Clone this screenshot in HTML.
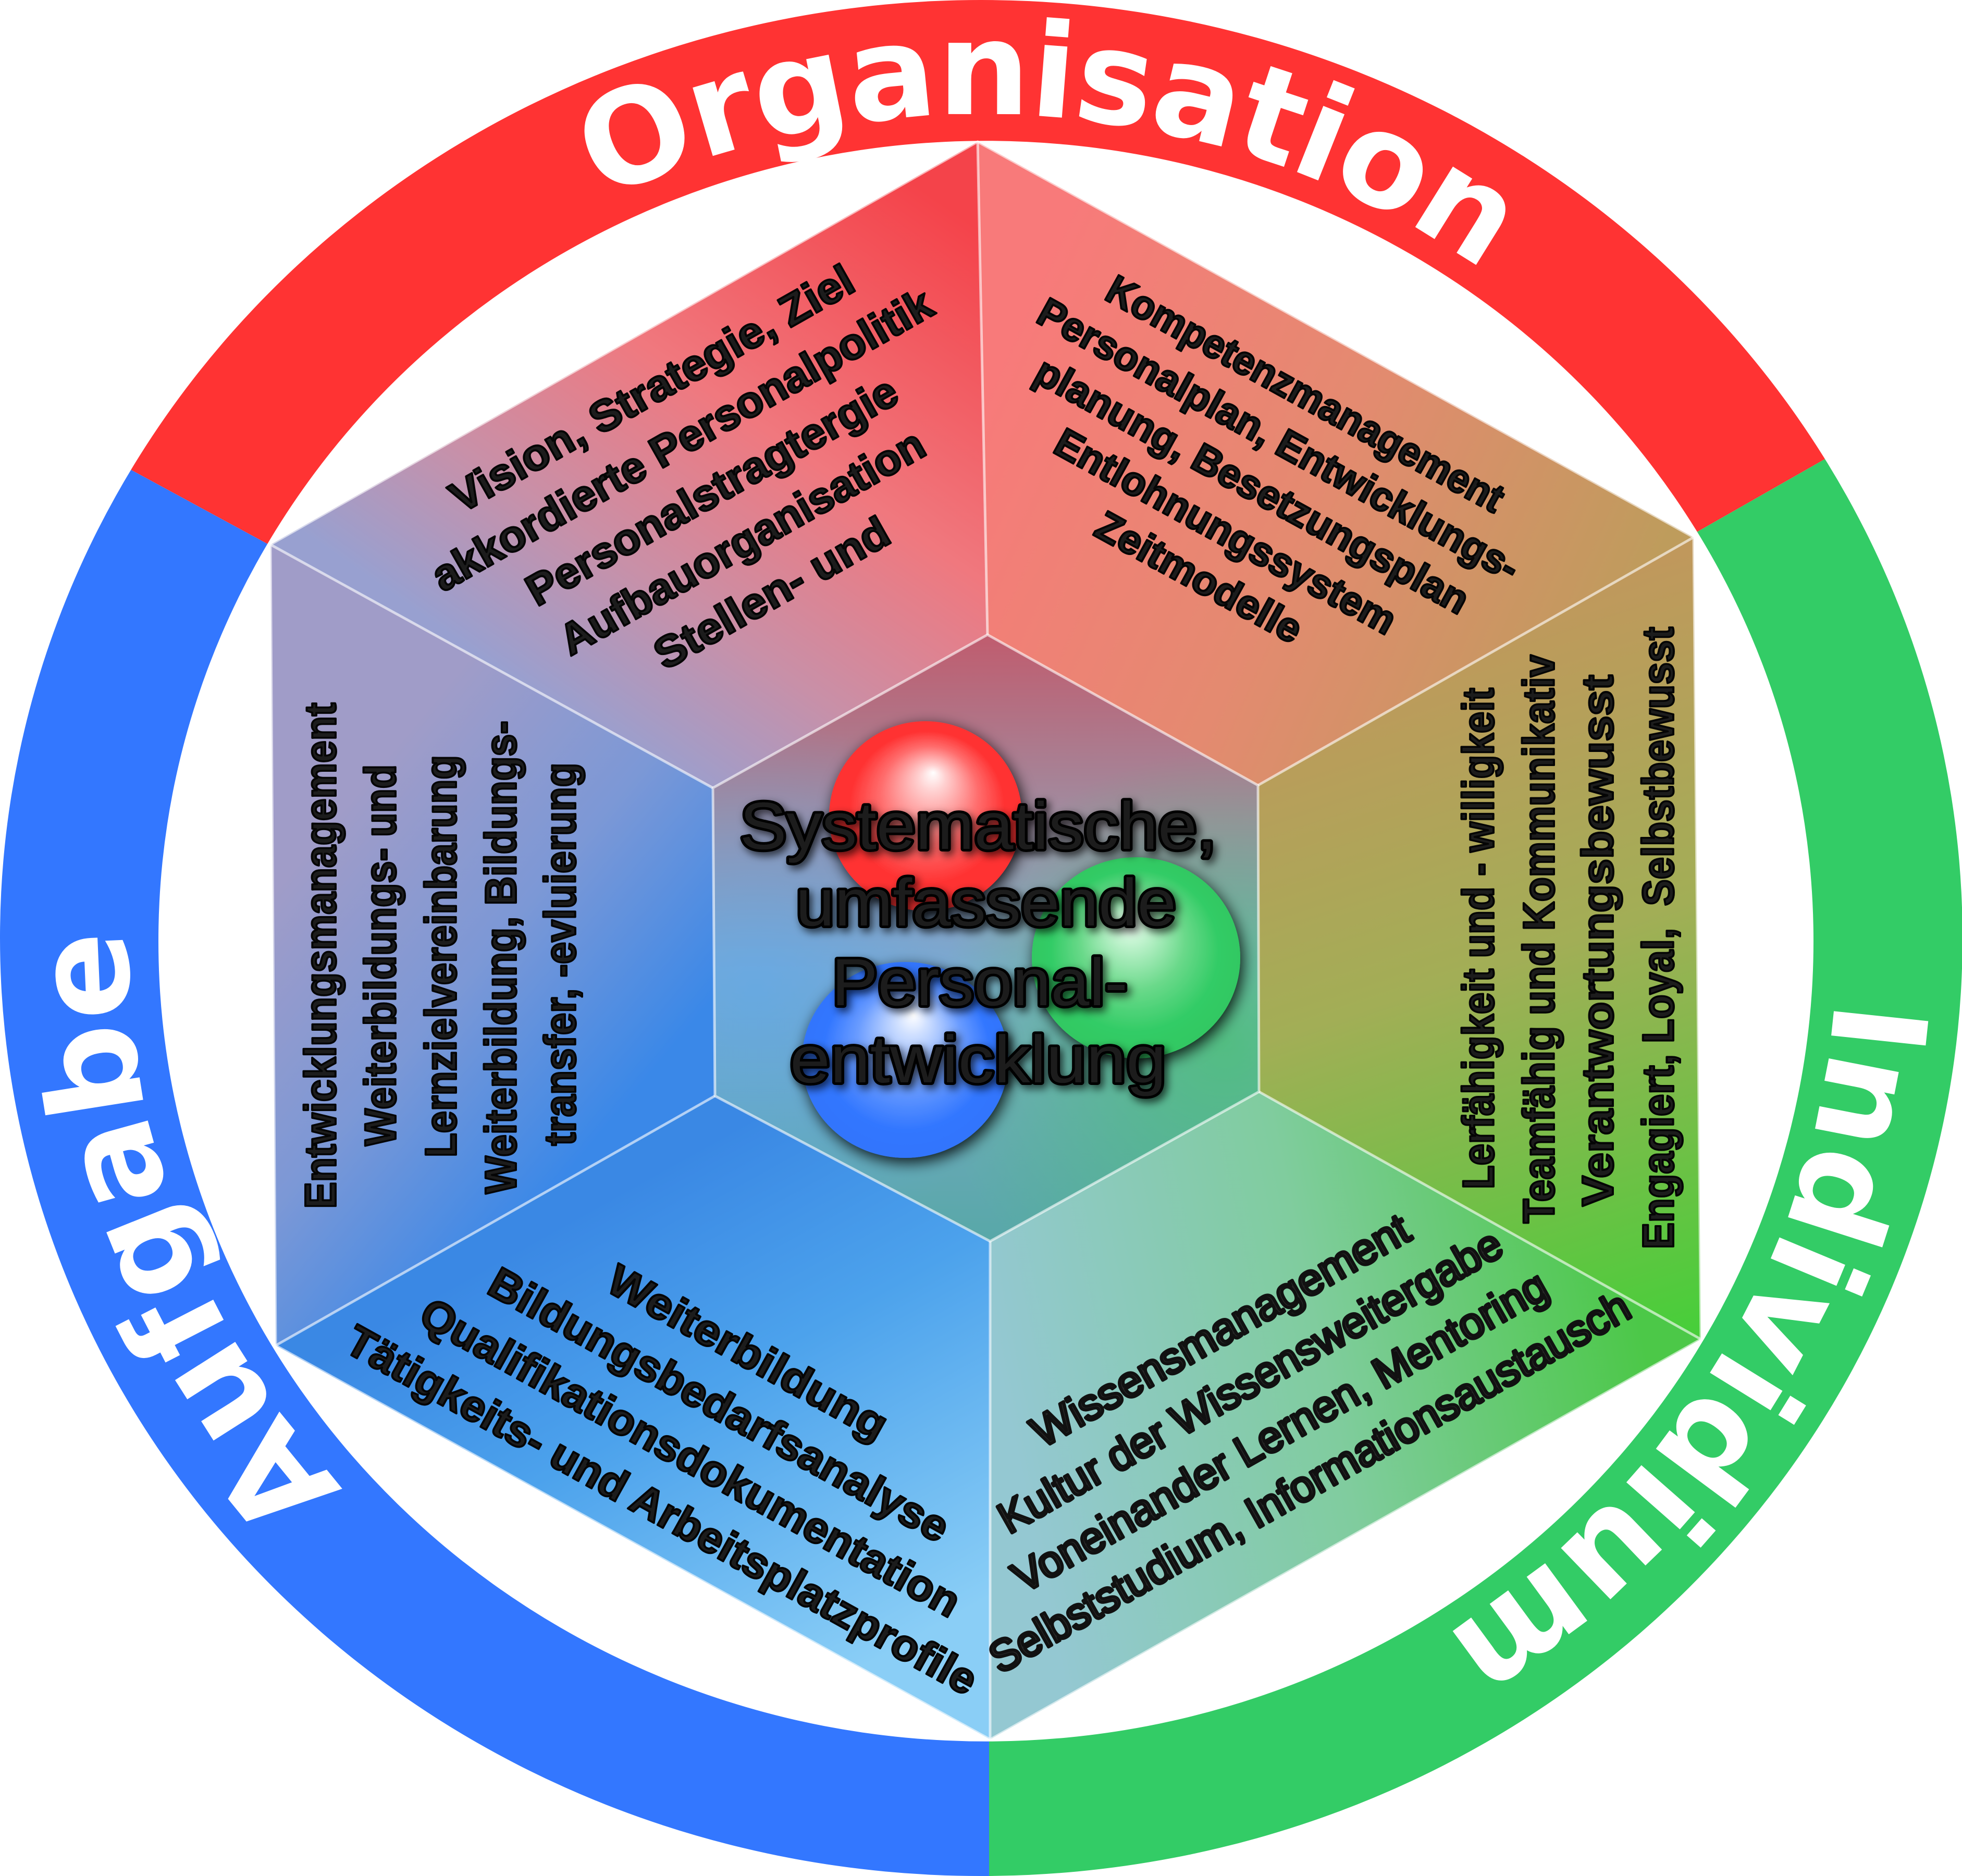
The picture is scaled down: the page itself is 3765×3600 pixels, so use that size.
<!DOCTYPE html>
<html>
<head>
<meta charset="utf-8">
<style>
html,body{margin:0;padding:0;background:#ffffff;}
svg{display:block;}
</style>
</head>
<body>
<svg width="3765" height="3600" viewBox="0 0 3765 3600" xmlns="http://www.w3.org/2000/svg" xmlns:xlink="http://www.w3.org/1999/xlink">
<defs>
  <clipPath id="cRed"><polygon points="1898,1795 -100,711 -100,-100 3865,-100 3865,674"/></clipPath>
  <clipPath id="cBlue"><polygon points="1898,1795 -100,711 -100,3700 1898,3700"/></clipPath>
  <clipPath id="cGreen"><polygon points="1898,1795 3865,674 3865,3700 1898,3700"/></clipPath>

  <path id="ring" fill-rule="evenodd" d="M 0 1800 A 1883 1800 0 1 0 3766 1800 A 1883 1800 0 1 0 0 1800 Z M 304 1806 A 1588 1535 0 1 0 3480 1806 A 1588 1535 0 1 0 304 1806 Z"/>

  <path id="pO" d="M 464.7 1011 A 1640 1584 0 0 1 3426.1 1261.3" fill="none"/>
  <path id="pI" d="M 3426.1 1261.3 A 1640 1584 0 0 1 1600.3 3363" fill="none"/>
  <path id="pA" d="M 1600.2 3362.9 A 1640 1584 0 0 1 628.7 784.8" fill="none"/>

  <linearGradient id="gTL" gradientUnits="userSpaceOnUse" x1="1750" y1="350" x2="1050" y2="1350">
    <stop offset="0" stop-color="#f4434a"/>
    <stop offset="0.45" stop-color="#f0787e"/>
    <stop offset="0.75" stop-color="#c890a8"/>
    <stop offset="1" stop-color="#98a0d0"/>
  </linearGradient>
  <linearGradient id="gTR" gradientUnits="userSpaceOnUse" x1="1950" y1="600" x2="3150" y2="1150">
    <stop offset="0" stop-color="#f87a7a"/>
    <stop offset="0.5" stop-color="#e48a70"/>
    <stop offset="1" stop-color="#be9c5c"/>
  </linearGradient>
  <linearGradient id="gR" gradientUnits="userSpaceOnUse" x1="2800" y1="1200" x2="3250" y2="2550">
    <stop offset="0" stop-color="#c0985c"/>
    <stop offset="0.45" stop-color="#a2ae56"/>
    <stop offset="1" stop-color="#48ce3a"/>
  </linearGradient>
  <linearGradient id="gBR" gradientUnits="userSpaceOnUse" x1="1950" y1="2800" x2="3150" y2="2550">
    <stop offset="0" stop-color="#94c8d2"/>
    <stop offset="0.5" stop-color="#80cc9e"/>
    <stop offset="1" stop-color="#4cc848"/>
  </linearGradient>
  <linearGradient id="gBL" gradientUnits="userSpaceOnUse" x1="1250" y1="2250" x2="1750" y2="3150">
    <stop offset="0" stop-color="#3a88e4"/>
    <stop offset="0.4" stop-color="#4ca2ec"/>
    <stop offset="1" stop-color="#8acef6"/>
  </linearGradient>
  <linearGradient id="gL" gradientUnits="userSpaceOnUse" x1="700" y1="1500" x2="1300" y2="2000">
    <stop offset="0" stop-color="#a09cc8"/>
    <stop offset="0.5" stop-color="#7c98d6"/>
    <stop offset="1" stop-color="#3a88e8"/>
  </linearGradient>
  <linearGradient id="gIn" gradientUnits="userSpaceOnUse" x1="0" y1="1218" x2="0" y2="2382">
    <stop offset="0" stop-color="#c05c6e"/>
    <stop offset="0.3" stop-color="#a08ca0"/>
    <stop offset="0.55" stop-color="#80aacc"/>
    <stop offset="1" stop-color="#58a8a8"/>
  </linearGradient>
  <radialGradient id="gInB" gradientUnits="userSpaceOnUse" cx="1450" cy="1900" r="520">
    <stop offset="0" stop-color="#5aa8f0" stop-opacity="0.6"/>
    <stop offset="1" stop-color="#5aa8f0" stop-opacity="0"/>
  </radialGradient>
  <radialGradient id="gInG" gradientUnits="userSpaceOnUse" cx="2350" cy="2000" r="560">
    <stop offset="0" stop-color="#40c860" stop-opacity="0.65"/>
    <stop offset="1" stop-color="#40c860" stop-opacity="0"/>
  </radialGradient>

  <radialGradient id="sR" cx="0.5" cy="0.5" r="0.5" fx="0.54" fy="0.27">
    <stop offset="0" stop-color="#ffffff"/>
    <stop offset="0.14" stop-color="#ffd0d0"/>
    <stop offset="0.5" stop-color="#ff6e6e"/>
    <stop offset="0.8" stop-color="#ff3333"/>
    <stop offset="1" stop-color="#ff3030"/>
  </radialGradient>
  <radialGradient id="sG" cx="0.5" cy="0.5" r="0.5" fx="0.47" fy="0.32">
    <stop offset="0" stop-color="#ffffff"/>
    <stop offset="0.14" stop-color="#c8f5d4"/>
    <stop offset="0.5" stop-color="#6ad98a"/>
    <stop offset="0.8" stop-color="#33cc66"/>
    <stop offset="1" stop-color="#30c862"/>
  </radialGradient>
  <radialGradient id="sB" cx="0.5" cy="0.5" r="0.5" fx="0.54" fy="0.27">
    <stop offset="0" stop-color="#ffffff"/>
    <stop offset="0.14" stop-color="#d0e0ff"/>
    <stop offset="0.5" stop-color="#6a9cff"/>
    <stop offset="0.8" stop-color="#3377ff"/>
    <stop offset="1" stop-color="#3074fc"/>
  </radialGradient>

  <filter id="fSph" x="-30%" y="-30%" width="160%" height="160%">
    <feGaussianBlur in="SourceAlpha" stdDeviation="14"/>
    <feOffset dx="5" dy="9" result="b"/>
    <feFlood flood-color="#000" flood-opacity="0.85"/>
    <feComposite in2="b" operator="in"/>
    <feMerge><feMergeNode/><feMergeNode in="SourceGraphic"/></feMerge>
  </filter>
  <filter id="fTxt" x="-10%" y="-30%" width="120%" height="160%">
    <feGaussianBlur in="SourceAlpha" stdDeviation="8"/>
    <feOffset dx="6" dy="7" result="b"/>
    <feFlood flood-color="#000" flood-opacity="0.7"/>
    <feComposite in2="b" operator="in"/>
    <feMerge><feMergeNode/><feMergeNode in="SourceGraphic"/></feMerge>
  </filter>
</defs>

<rect x="0" y="0" width="3765" height="3600" fill="#ffffff"/>

<!-- Ring -->
<use href="#ring" xlink:href="#ring" fill="#ff3333" clip-path="url(#cRed)"/>
<use href="#ring" xlink:href="#ring" fill="#3377ff" clip-path="url(#cBlue)"/>
<use href="#ring" xlink:href="#ring" fill="#33cc66" clip-path="url(#cGreen)"/>

<!-- Ring labels -->
<g font-family="'DejaVu Sans', 'Liberation Sans', sans-serif" font-weight="bold" font-size="250" fill="#ffffff">
  <text><textPath href="#pO" xlink:href="#pO" startOffset="1835" text-anchor="middle" textLength="1780" lengthAdjust="spacing">Organisation</textPath></text>
  <text><textPath href="#pI" xlink:href="#pI" startOffset="1412" text-anchor="middle">Individium</textPath></text>
  <text><textPath href="#pA" xlink:href="#pA" startOffset="1676" text-anchor="middle">Aufgabe</textPath></text>
</g>

<!-- Hexagon segments -->
<polygon points="519,1045 1876,272 1895,1218 1368,1512" fill="url(#gTL)"/>
<polygon points="1876,272 3250,1031 2414,1507 1895,1218" fill="url(#gTR)"/>
<polygon points="3250,1031 3264,2570 2416,2095 2414,1507" fill="url(#gR)"/>
<polygon points="3264,2570 1900,3338 1900,2382 2416,2095" fill="url(#gBR)"/>
<polygon points="1900,3338 529,2582 1372,2103 1900,2382" fill="url(#gBL)"/>
<polygon points="529,2582 519,1045 1368,1512 1372,2103" fill="url(#gL)"/>

<!-- Inner hexagon -->
<polygon points="1895,1218 2414,1507 2416,2095 1900,2382 1372,2103 1368,1512" fill="url(#gIn)"/>
<polygon points="1895,1218 2414,1507 2416,2095 1900,2382 1372,2103 1368,1512" fill="url(#gInB)"/>
<polygon points="1895,1218 2414,1507 2416,2095 1900,2382 1372,2103 1368,1512" fill="url(#gInG)"/>

<!-- Edges and spokes -->
<g fill="none" stroke="#ffffff" stroke-opacity="0.6" stroke-width="5" stroke-linejoin="round">
  <polygon points="1876,272 3250,1031 3264,2570 1900,3338 529,2582 519,1045"/>
  <polygon points="1895,1218 2414,1507 2416,2095 1900,2382 1372,2103 1368,1512"/>
  <line x1="1876" y1="272" x2="1895" y2="1218"/>
  <line x1="3250" y1="1031" x2="2414" y2="1507"/>
  <line x1="3264" y1="2570" x2="2416" y2="2095"/>
  <line x1="1900" y1="3338" x2="1900" y2="2382"/>
  <line x1="529" y1="2582" x2="1372" y2="2103"/>
  <line x1="519" y1="1045" x2="1368" y2="1512"/>
</g>

<!-- Segment texts (bold) -->
<g font-family="'Liberation Sans', Arial, sans-serif" font-weight="bold" fill="#1c1c1c" stroke="#050505" stroke-width="4" stroke-linejoin="round" text-anchor="middle">
  <!-- top-left -->
  <g font-size="84">
    <text transform="translate(1265 771) rotate(-29.5)" textLength="875" lengthAdjust="spacingAndGlyphs">Vision, Strategie, Ziel</text>
    <text transform="translate(1323 869) rotate(-29.5)" textLength="1089" lengthAdjust="spacingAndGlyphs">akkordierte Personalpolitik</text>
    <text transform="translate(1380 967) rotate(-29.5)" textLength="804" lengthAdjust="spacingAndGlyphs">Personalstragtergie</text>
    <text transform="translate(1438 1065) rotate(-29.5)" textLength="790" lengthAdjust="spacingAndGlyphs">Aufbauorganisation</text>
    <text transform="translate(1495 1163) rotate(-29.5)" textLength="504" lengthAdjust="spacingAndGlyphs">Stellen- und</text>
  </g>
  <!-- top-right -->
  <g font-size="78">
    <text transform="translate(2492 779) rotate(28.8)" textLength="857" lengthAdjust="spacingAndGlyphs">Kompetenzmanagement</text>
    <text transform="translate(2441 867) rotate(28.8)" textLength="1041" lengthAdjust="spacingAndGlyphs">Personalplan, Entwicklungs-</text>
    <text transform="translate(2390 955) rotate(28.8)" textLength="936" lengthAdjust="spacingAndGlyphs">planung, Besetzungsplan</text>
    <text transform="translate(2339 1043) rotate(28.8)" textLength="734" lengthAdjust="spacingAndGlyphs">Entlohnungssystem</text>
    <text transform="translate(2288 1131) rotate(28.8)" textLength="439" lengthAdjust="spacingAndGlyphs">Zeitmodelle</text>
  </g>
  <!-- right (vertical) -->
  <g font-size="84">
    <text transform="translate(2866 1801) rotate(-90)" textLength="962" lengthAdjust="spacingAndGlyphs">Lerfähigkeit und - willigkeit</text>
    <text transform="translate(2982 1802) rotate(-90)" textLength="1091" lengthAdjust="spacingAndGlyphs">Teamfähig und Kommunikativ</text>
    <text transform="translate(3095 1805) rotate(-90)" textLength="1020" lengthAdjust="spacingAndGlyphs">Verantwortungsbewusst</text>
    <text transform="translate(3211 1800) rotate(-90)" textLength="1194" lengthAdjust="spacingAndGlyphs">Engagiert, Loyal,&#160; Selbstbewusst</text>
  </g>
  <!-- bottom-left -->
  <g font-size="84">
    <text transform="translate(1421 2620) rotate(29)" textLength="600" lengthAdjust="spacingAndGlyphs">Weiterbildung</text>
    <text transform="translate(1366 2721) rotate(29)" textLength="995" lengthAdjust="spacingAndGlyphs">Bildungsbedarfsanalyse</text>
    <text transform="translate(1311 2822) rotate(29)" textLength="1170" lengthAdjust="spacingAndGlyphs">Qualifikationsdokumentation</text>
    <text transform="translate(1256 2923) rotate(29)" textLength="1370" lengthAdjust="spacingAndGlyphs">Tätigkeits- und Arbeitsplatzprofile</text>
  </g>
  <!-- left (vertical) -->
  <g font-size="84">
    <text transform="translate(644 1834) rotate(-90)" textLength="971" lengthAdjust="spacingAndGlyphs">Entwicklungsmanagement</text>
    <text transform="translate(759 1833) rotate(-90)" textLength="732" lengthAdjust="spacingAndGlyphs">Weiterbildungs- und</text>
    <text transform="translate(875 1835) rotate(-90)" textLength="772" lengthAdjust="spacingAndGlyphs">Lernzielvereinbarung</text>
    <text transform="translate(990 1837) rotate(-90)" textLength="908" lengthAdjust="spacingAndGlyphs">Weiterbildung, Bildungs-</text>
    <text transform="translate(1104 1831) rotate(-90)" textLength="735" lengthAdjust="spacingAndGlyphs">transfer, -evluierung</text>
  </g>
</g>

<!-- bottom-right (regular) -->
<g font-family="'Liberation Sans', Arial, sans-serif" font-weight="normal" font-size="84" fill="#262626" stroke="#111111" stroke-width="6" stroke-linejoin="round" text-anchor="middle">
  <text transform="translate(2356 2578) rotate(-29.5)" textLength="819" lengthAdjust="spacingAndGlyphs">Wissensmanagement</text>
  <text transform="translate(2413 2675) rotate(-29.5)" textLength="1096" lengthAdjust="spacingAndGlyphs">Kultur der Wissensweitergabe</text>
  <text transform="translate(2470 2772) rotate(-29.5)" textLength="1164" lengthAdjust="spacingAndGlyphs">Voneinander Lernen, Mentoring</text>
  <text transform="translate(2527 2869) rotate(-29.5)" textLength="1397" lengthAdjust="spacingAndGlyphs">Selbststudium, Informationsaustausch</text>
</g>

<!-- Spheres -->
<ellipse cx="1776" cy="1566" rx="185" ry="182" fill="url(#sR)" filter="url(#fSph)"/>
<ellipse cx="2180" cy="1838" rx="200" ry="193" fill="url(#sG)" filter="url(#fSph)"/>
<ellipse cx="1737" cy="2034" rx="198" ry="188" fill="url(#sB)" filter="url(#fSph)"/>

<!-- Central text -->
<g font-family="'Liberation Sans', Arial, sans-serif" font-size="128" fill="#1f1f1f" stroke="#000000" stroke-width="10" paint-order="stroke fill" stroke-linejoin="round" text-anchor="middle" filter="url(#fTxt)">
  <text x="1877" y="1629" textLength="915" lengthAdjust="spacingAndGlyphs">Systematische,</text>
  <text x="1892" y="1776" textLength="730" lengthAdjust="spacingAndGlyphs">umfassende</text>
  <text x="1880" y="1929" textLength="568" lengthAdjust="spacingAndGlyphs">Personal-</text>
  <text x="1877" y="2077" textLength="722" lengthAdjust="spacingAndGlyphs">entwicklung</text>
</g>
</svg>
</body>
</html>
